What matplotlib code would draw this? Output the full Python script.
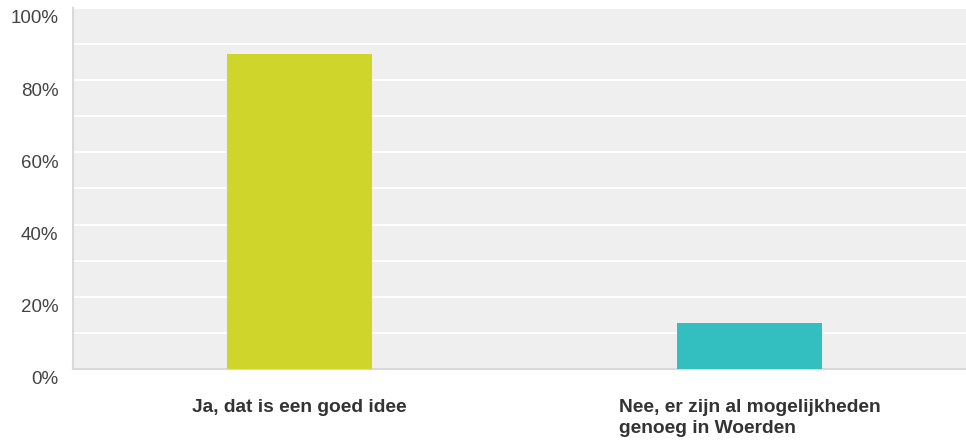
import matplotlib.pyplot as plt
import matplotlib.transforms as mtransforms

categories = ["Ja, dat is een goed idee", "Nee, er zijn al mogelijkheden\ngenoeg in Woerden"]
values = [87.3, 12.7]
colors = ["#cfd52a", "#33bec0"]
yticks = [0, 20, 40, 60, 80, 100]
ytick_labels = ["0%", "20%", "40%", "60%", "80%", "100%"]

plt.rcParams['font.family'] = ['Liberation Sans', 'DejaVu Sans']

fig = plt.figure(figsize=(9.66, 4.44), dpi=100)
ax = fig.add_axes([73 / 966, 1 - 369 / 444, 893 / 966, 361 / 444])
ax.set_facecolor("#efefef")

x = list(range(len(categories)))
ax.bar(x, values, width=0.322, color=colors, zorder=3)

ax.set_ylim(0, 100)
ax.set_xlim(-0.503, 1.481)
ax.set_yticks(range(0, 101, 10), minor=True)
ax.grid(axis="y", which="both", color="white", linewidth=1.3, zorder=1)
ax.set_axisbelow(True)

ax.set_yticks(yticks)
ax.set_yticklabels(ytick_labels, fontsize=13.5, color="#444444")
ax.tick_params(axis="y", which="both", length=0, pad=10.5)
# labels sit a little below their gridlines in the original
offset = mtransforms.ScaledTranslation(0, -9 / 100, fig.dpi_scale_trans)
for lbl in ax.get_yticklabels():
    lbl.set_transform(lbl.get_transform() + offset)

ax.set_xticks(x)
ax.set_xticklabels(categories, fontsize=13.8, fontweight="bold", color="#333333",
                   va="top", ha="center", multialignment="left", linespacing=1.3)
ax.tick_params(axis="x", length=0, pad=21.5)

for side in ["top", "right"]:
    ax.spines[side].set_visible(False)
for side in ["left", "bottom"]:
    ax.spines[side].set_color("#d9d9d9")
    ax.spines[side].set_linewidth(1.5)

plt.savefig("out.png", dpi=100)
plt.close()
